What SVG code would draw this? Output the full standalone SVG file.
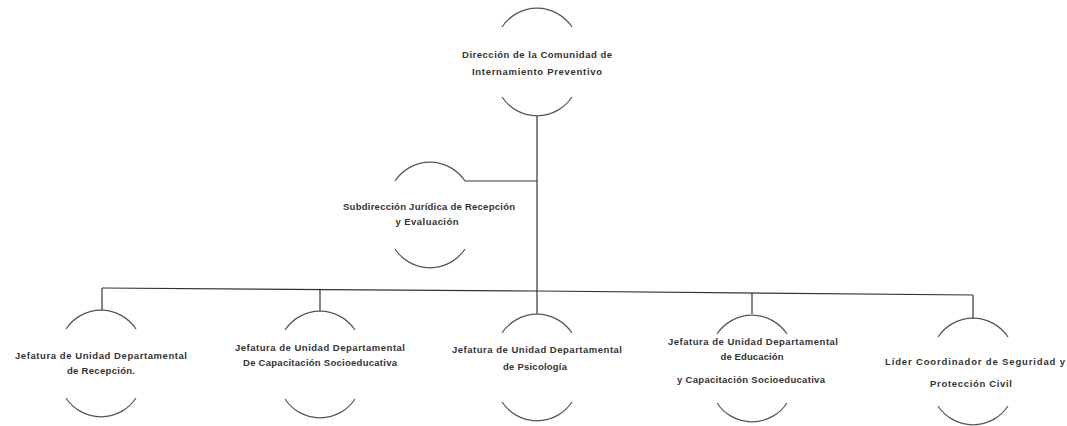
<svg xmlns="http://www.w3.org/2000/svg" width="1067" height="426" viewBox="0 0 1067 426">
<style>
.arc{fill:none;stroke:#555;stroke-width:1.2}
.ln{fill:none;stroke:#333;stroke-width:1.2}
text{font-family:"Liberation Sans",Arial,sans-serif;font-size:9.5px;font-weight:bold;fill:#333;text-anchor:middle}
</style>
<rect width="1067" height="426" fill="#fff"/>
<g id="connectors">
<line class="ln" x1="537" y1="116" x2="537" y2="291"/>
<line class="ln" x1="465" y1="181" x2="537" y2="181"/>
<polyline class="ln" points="102,288 537,291 973,295"/>
<line class="ln" x1="102" y1="288" x2="102" y2="310"/>
<line class="ln" x1="320" y1="289" x2="320" y2="311"/>
<line class="ln" x1="537" y1="291" x2="537" y2="314"/>
<line class="ln" x1="752" y1="293" x2="752" y2="314"/>
<line class="ln" x1="973" y1="295" x2="973" y2="318"/>
</g>
<g id="n-direccion">
<path class="arc" d="M502,27 A42,42 0 0 1 572,27"/>
<path class="arc" d="M502,97 A42,42 0 0 0 572,97"/>
<text x="537" y="58" textLength="150" lengthAdjust="spacing">Dirección de la Comunidad de</text>
<text x="537" y="75" textLength="130" lengthAdjust="spacing">Internamiento Preventivo</text>
</g>
<g id="n-subdireccion">
<path class="arc" d="M395,181 A42,42 0 0 1 465,181"/>
<path class="arc" d="M395,249 A42,42 0 0 0 465,249"/>
<text x="429" y="210" textLength="172" lengthAdjust="spacing">Subdirección Jurídica de Recepción</text>
<text x="427" y="225" textLength="63" lengthAdjust="spacing">y Evaluación</text>
</g>
<g id="n-recepcion">
<path class="arc" d="M66,329 A42,42 0 0 1 136,329"/>
<path class="arc" d="M66,398 A42,42 0 0 0 136,398"/>
<text x="101" y="359" textLength="172" lengthAdjust="spacing">Jefatura de Unidad Departamental</text>
<text x="101" y="374" textLength="68" lengthAdjust="spacing">de Recepción.</text>
</g>
<g id="n-capacitacion">
<path class="arc" d="M285,330 A42,42 0 0 1 355,330"/>
<path class="arc" d="M285,399 A42,42 0 0 0 355,399"/>
<text x="320" y="351" textLength="170" lengthAdjust="spacing">Jefatura de Unidad Departamental</text>
<text x="320" y="366" textLength="154" lengthAdjust="spacing">De Capacitación  Socioeducativa</text>
</g>
<g id="n-psicologia">
<path class="arc" d="M502,333 A42,42 0 0 1 572,333"/>
<path class="arc" d="M502,402 A42,42 0 0 0 572,402"/>
<text x="537" y="353" textLength="170" lengthAdjust="spacing">Jefatura de Unidad Departamental</text>
<text x="535" y="370" textLength="64" lengthAdjust="spacing">de Psicología</text>
</g>
<g id="n-educacion">
<path class="arc" d="M717,334 A42,42 0 0 1 787,334"/>
<path class="arc" d="M717,403 A42,42 0 0 0 787,403"/>
<text x="753" y="345" textLength="170" lengthAdjust="spacing">Jefatura de Unidad Departamental</text>
<text x="752" y="360" textLength="63" lengthAdjust="spacing">de Educación</text>
<text x="751" y="383" textLength="148" lengthAdjust="spacing">y Capacitación  Socioeducativa</text>
</g>
<g id="n-seguridad">
<path class="arc" d="M938,337 A42,42 0 0 1 1008,337"/>
<path class="arc" d="M938,406 A42,42 0 0 0 1008,406"/>
<text x="975" y="365" textLength="180" lengthAdjust="spacing">Líder Coordinador de Seguridad y</text>
<text x="971" y="387" textLength="82" lengthAdjust="spacing">Protección Civil</text>
</g>
</svg>
